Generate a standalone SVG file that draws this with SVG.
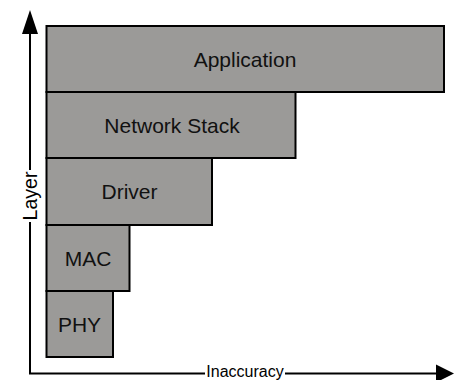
<svg xmlns="http://www.w3.org/2000/svg" width="454" height="380" viewBox="0 0 454 380">
<style>
.box{fill:#9b9a98;stroke:#000;stroke-width:2}
.lbl{font-family:"Liberation Sans",Arial,sans-serif;font-size:21px;fill:#111;text-anchor:middle}
.ax{stroke:#000;stroke-width:2;fill:none}
.ah{fill:#000}
.axl{font-family:"Liberation Sans",Arial,sans-serif;fill:#000;text-anchor:middle}
</style>
<g id="connectors">
<line class="ax" x1="30" y1="373.5" x2="30" y2="30"/>
<polygon class="ah" points="30,10 22,34 38,34"/>
<line class="ax" x1="29" y1="373.5" x2="440" y2="373.5"/>
<polygon class="ah" points="454,373.5 436,364.5 436,382.5"/>
<rect x="20" y="170" width="20" height="52" fill="#fff"/>
<text class="axl" font-size="19.5" transform="translate(37,196) rotate(-90)">Layer</text>
<rect x="205" y="365" width="80" height="15" fill="#fff"/>
<text class="axl" font-size="16" x="245" y="377">Inaccuracy</text>
</g>
<g id="application">
<rect class="box" x="46.5" y="26" width="397.5" height="66"/>
<text class="lbl" x="245" y="66.5">Application</text>
</g>
<g id="network-stack">
<rect class="box" x="46.5" y="92" width="249" height="66"/>
<text class="lbl" x="172" y="132.5">Network Stack</text>
</g>
<g id="driver">
<rect class="box" x="46.5" y="158" width="165.5" height="67"/>
<text class="lbl" x="129.5" y="199">Driver</text>
</g>
<g id="mac">
<rect class="box" x="46.5" y="225" width="83" height="66"/>
<text class="lbl" x="88" y="265.5">MAC</text>
</g>
<g id="phy">
<rect class="box" x="46.5" y="291" width="66.5" height="66"/>
<text class="lbl" x="79.5" y="331.5">PHY</text>
</g>
</svg>
